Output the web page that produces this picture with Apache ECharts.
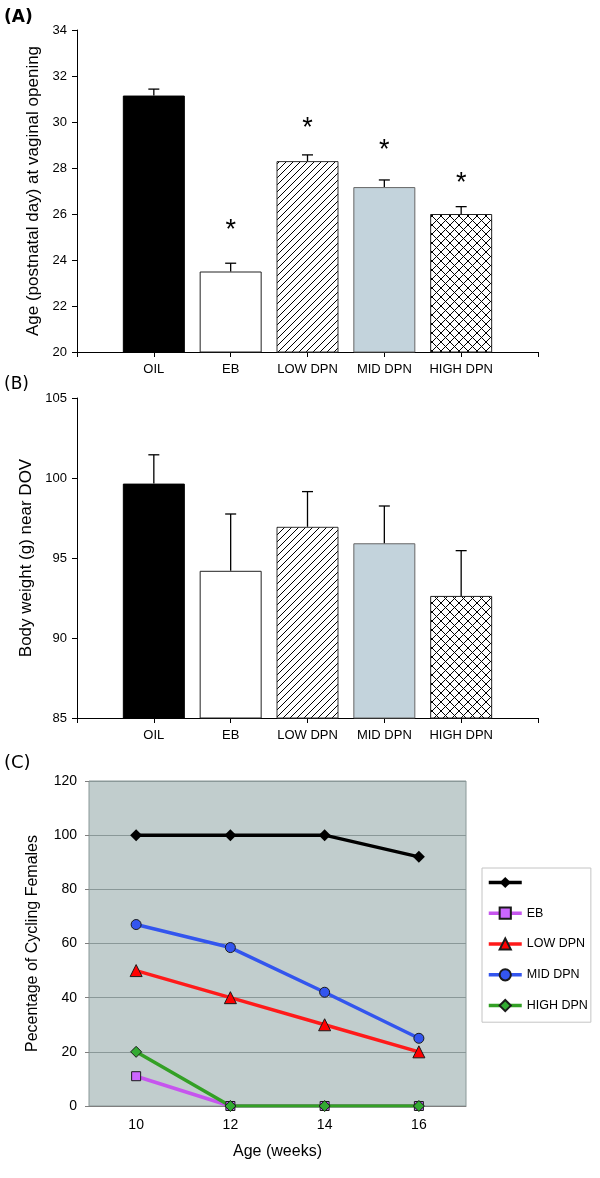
<!DOCTYPE html>
<html><head><meta charset="utf-8">
<script src="https://cdn.jsdelivr.net/npm/echarts@6/dist/echarts.min.js"></script>
<style>html,body{margin:0;padding:0;background:#fff}#c{width:600px;height:1178px}</style>
</head><body><div id="c"></div>
<script>
// ---------- data ----------
const groups = ['OIL', 'EB', 'LOW DPN', 'MID DPN', 'HIGH DPN'];
const ageVO = [31.15, 23.5, 28.3, 27.17, 26.0];
const ageVOErr = [0.28, 0.36, 0.27, 0.31, 0.32];
const ageVOStar = [null, 25.6, 30.0, 29.07, 27.62];
const bodyWt = [99.65, 94.2, 96.95, 95.92, 92.63];
const bodyWtErr = [1.8, 3.55, 2.2, 2.33, 2.83];
const weeks = ['10', '12', '14', '16'];
const cycOil = [100, 100, 100, 92];
const cycEB = [11, 0, 0, 0];
const cycLow = [50, 40, 30, 20];
const cycMid = [67, 58.5, 42, 25];
const cycHigh = [20, 0, 0, 0];
const ticksA = [20, 22, 24, 26, 28, 30, 32, 34];
const ticksB = [85, 90, 95, 100, 105];
const ticksC = [0, 20, 40, 60, 80, 100, 120];
const legendNames = [' ', 'EB', 'LOW DPN', 'MID DPN', 'HIGH DPN'];

// ---------- styles ----------
const FONT = 'Liberation Sans';
function hatch(size, both) {
  const c = document.createElement('canvas');
  c.width = c.height = size;
  const g = c.getContext('2d');
  g.fillStyle = '#fff'; g.fillRect(0, 0, size, size);
  g.strokeStyle = '#000'; g.lineWidth = 1;
  g.beginPath();
  g.moveTo(-1, size + 1); g.lineTo(size + 1, -1);
  g.moveTo(-1, 1); g.lineTo(1, -1);
  g.moveTo(size - 1, size + 1); g.lineTo(size + 1, size - 1);
  if (both) {
    g.moveTo(-1, -1); g.lineTo(size + 1, size + 1);
    g.moveTo(size - 1, -1); g.lineTo(size + 1, 1);
    g.moveTo(-1, size - 1); g.lineTo(1, size + 1);
  }
  g.stroke();
  return c;
}
const barStyles = [
  { color: '#000', borderColor: '#000', borderWidth: 1 },
  { color: '#fff', borderColor: '#222', borderWidth: 1 },
  { color: { image: hatch(7, false), repeat: 'repeat' }, borderColor: '#333', borderWidth: 1 },
  { color: '#c3d3dc', borderColor: '#666', borderWidth: 1 },
  { color: { image: hatch(9, true), repeat: 'repeat' }, borderColor: '#222', borderWidth: 1 }
];

function catXAxis(gridIndex) {
  return {
    type: 'value', gridIndex, min: 0, max: groups.length + 1, interval: 1,
    axisLine: { onZero: false, lineStyle: { color: '#000', width: 1 } },
    axisTick: { length: 5, lineStyle: { color: '#000' } },
    axisLabel: { fontFamily: FONT, fontSize: 13, color: '#000', margin: 11,
      formatter: v => groups[v - 1] || '' },
    splitLine: { show: false }
  };
}
function valYAxis(gridIndex, ticks, name) {
  return {
    type: 'value', gridIndex, min: ticks[0], max: ticks[ticks.length - 1],
    interval: ticks[1] - ticks[0],
    axisLine: { show: true, onZero: false, lineStyle: { color: '#000', width: 1 } },
    axisTick: { show: true, length: 5, lineStyle: { color: '#000' } },
    axisLabel: { fontFamily: FONT, fontSize: 13, color: '#000', margin: 10 },
    splitLine: { show: false },
    name, nameLocation: 'middle', nameGap: 34,
    nameTextStyle: { fontFamily: FONT, fontSize: 17, color: '#000' }
  };
}
function barSeries(idx, vals) {
  return {
    name: 'bars' + idx, type: 'bar', xAxisIndex: idx, yAxisIndex: idx, barWidth: 62,
    clip: true,
    data: vals.map((v, i) => ({ value: [i + 1, v], itemStyle: barStyles[i] }))
  };
}
function errSeries(idx, vals, errs) {
  return {
    name: 'err' + idx, type: 'custom', xAxisIndex: idx, yAxisIndex: idx, z: 5, silent: true,
    data: vals.map((v, i) => [i + 1, v, v + errs[i]]),
    renderItem: (params, api) => {
      const p0 = api.coord([api.value(0), api.value(1)]);
      const p1 = api.coord([api.value(0), api.value(2)]);
      const st = { stroke: '#000', lineWidth: 1.3 };
      return { type: 'group', children: [
        { type: 'line', shape: { x1: p0[0], y1: p0[1], x2: p1[0], y2: p1[1] }, style: st },
        { type: 'line', shape: { x1: p1[0] - 5.5, y1: p1[1], x2: p1[0] + 5.5, y2: p1[1] }, style: st }
      ] };
    }
  };
}
const starData = [];
ageVOStar.forEach((v, i) => { if (v != null) starData.push([i + 1, v]); });

function lineSeries(name, data, symbol, size, lineColor, fill) {
  return {
    name, type: 'line', xAxisIndex: 2, yAxisIndex: 2, data, symbol, symbolSize: size,
    lineStyle: { color: lineColor, width: 3.5 },
    itemStyle: { color: fill, borderColor: '#1a1a1a', borderWidth: fill === '#000' ? 0 : 1 },
    emphasis: { disabled: true }
  };
}

const option = {
  animation: false,
  backgroundColor: '#fff',
  textStyle: { fontFamily: FONT },
  graphic: [
    { type: 'text', left: 4, top: 9, style: { text: '(A)', font: 'bold 17px "DejaVu Sans"', fill: '#000' } },
    { type: 'text', left: 4, top: 376, style: { text: '(B)', font: '17px "DejaVu Sans"', fill: '#000' } },
    { type: 'text', left: 4, top: 754, style: { text: '(C)', font: '18px "DejaVu Sans"', fill: '#000' } }
  ],
  grid: [
    { left: 77, top: 30, width: 461, height: 322 },
    { left: 77, top: 398, width: 461, height: 320 },
    { left: 89, top: 781, width: 377, height: 325, show: true, backgroundColor: '#c1cdcd',
      borderColor: '#8a9898', borderWidth: 1 }
  ],
  xAxis: [
    catXAxis(0),
    catXAxis(1),
    {
      type: 'category', gridIndex: 2, data: weeks, boundaryGap: true,
      axisLine: { lineStyle: { color: '#7f7f7f' } },
      axisTick: { length: 4, lineStyle: { color: '#7f7f7f' } },
      axisLabel: { fontFamily: FONT, fontSize: 14, color: '#000', margin: 12 },
      name: 'Age (weeks)', nameLocation: 'middle', nameGap: 38,
      nameTextStyle: { fontFamily: FONT, fontSize: 16, color: '#000' }
    }
  ],
  yAxis: [
    valYAxis(0, ticksA, 'Age (postnatal day) at vaginal opening'),
    valYAxis(1, ticksB, 'Body weight (g) near DOV'),
    {
      type: 'value', gridIndex: 2, min: ticksC[0], max: ticksC[ticksC.length - 1],
      interval: ticksC[1] - ticksC[0],
      axisLine: { show: false },
      axisTick: { show: true, length: 4, lineStyle: { color: '#7f7f7f' } },
      axisLabel: { fontFamily: FONT, fontSize: 14, color: '#000', margin: 12 },
      splitLine: { show: true, lineStyle: { color: '#8a9898', width: 1 } },
      name: 'Pecentage of Cycling Females', nameLocation: 'middle', nameGap: 48,
      nameTextStyle: { fontFamily: FONT, fontSize: 16, color: '#000' }
    }
  ],
  legend: {
    data: legendNames, orient: 'vertical', left: 482, top: 868,
    padding: [8, 3, 10, 5], itemWidth: 33, itemHeight: 14, itemGap: 17.6,
    backgroundColor: '#fff', borderColor: '#c4c4c4', borderWidth: 1,
    lineStyle: { width: 3.5 },
    textStyle: { fontFamily: FONT, fontSize: 12.5, color: '#000' },
    selectedMode: false
  },
  series: [
    barSeries(0, ageVO),
    errSeries(0, ageVO, ageVOErr),
    {
      name: 'stars', type: 'custom', xAxisIndex: 0, yAxisIndex: 0, z: 6, silent: true,
      data: starData,
      renderItem: (params, api) => {
        const p = api.coord([api.value(0), api.value(1)]);
        return { type: 'text', x: p[0], y: p[1] + 7, style: {
          text: '*', font: '27px "Liberation Sans"', fill: '#000',
          align: 'center', verticalAlign: 'middle', textAlign: 'center', textVerticalAlign: 'middle' } };
      }
    },
    barSeries(1, bodyWt),
    errSeries(1, bodyWt, bodyWtErr),
    lineSeries(' ', cycOil, 'diamond', 12, '#000', '#000'),
    lineSeries('EB', cycEB, 'rect', 9, '#c655ee', '#cc66ff'),
    lineSeries('LOW DPN', cycLow, 'triangle', 12, '#ff1a1a', '#ff0000'),
    lineSeries('MID DPN', cycMid, 'circle', 10, '#3355ee', '#3355ee'),
    lineSeries('HIGH DPN', cycHigh, 'diamond', 11, '#33a025', '#33aa33')
  ]
};
const chart = echarts.init(document.getElementById('c'), null, { renderer: 'canvas' });
chart.setOption(option);
</script>
</body></html>
